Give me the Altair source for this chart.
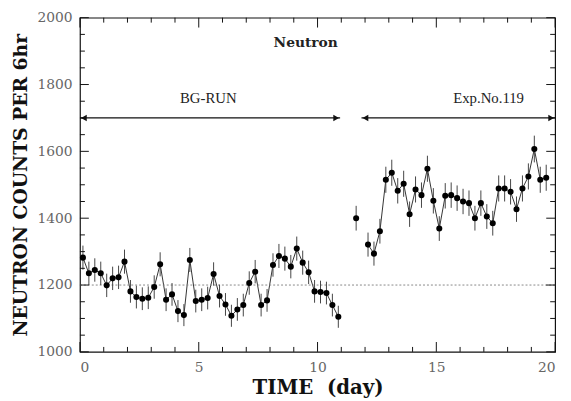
import altair as alt
import pandas as pd

# ---- data ----
t_bg = [0.125, 0.375, 0.625, 0.875, 1.125, 1.375, 1.625, 1.875, 2.125, 2.375,
        2.625, 2.875, 3.125, 3.375, 3.625, 3.875, 4.125, 4.375, 4.625, 4.875,
        5.125, 5.375, 5.625, 5.875, 6.125, 6.375, 6.625, 6.875, 7.125, 7.375,
        7.625, 7.875, 8.125, 8.375, 8.625, 8.875, 9.125, 9.375, 9.625, 9.875,
        10.125, 10.375, 10.625, 10.875]
v_bg = [1282, 1235, 1245, 1235, 1199, 1220, 1223, 1270, 1181, 1164,
        1159, 1162, 1194, 1262, 1156, 1172, 1122, 1110, 1275, 1152,
        1156, 1161, 1233, 1167, 1142, 1108, 1127, 1140, 1206, 1240,
        1140, 1154, 1260, 1287, 1279, 1255, 1309, 1267, 1238, 1181,
        1179, 1176, 1140, 1105]
e_bg = [36, 35, 35, 35, 35, 35, 35, 36, 34, 34,
        34, 34, 35, 36, 34, 34, 33, 33, 36, 34,
        34, 34, 35, 34, 34, 33, 34, 34, 35, 35,
        34, 34, 35, 36, 36, 35, 36, 36, 35, 34,
        34, 34, 34, 33]

t_iso = [11.625]
v_iso = [1400]
e_iso = [37]

t_exp = [12.125, 12.375, 12.625, 12.875, 13.125, 13.375, 13.625, 13.875, 14.125, 14.375,
         14.625, 14.875, 15.125, 15.375, 15.625, 15.875, 16.125, 16.375, 16.625, 16.875,
         17.125, 17.375, 17.625, 17.875, 18.125, 18.375, 18.625, 18.875, 19.125, 19.375,
         19.625]
v_exp = [1321, 1294, 1361, 1515, 1536, 1482, 1503, 1412, 1486, 1469,
         1548, 1452, 1369, 1467, 1469, 1460, 1450, 1445, 1400, 1445,
         1405, 1385, 1489, 1489, 1479, 1427, 1489, 1525, 1607, 1515,
         1521]
e_exp = [36, 36, 37, 39, 39, 38, 39, 38, 39, 38,
         39, 38, 37, 38, 38, 38, 38, 38, 37, 38,
         37, 37, 39, 39, 38, 38, 39, 39, 40, 39,
         39]

x_major = [0, 5, 10, 15, 20]
x_minor = [1, 2, 3, 4, 6, 7, 8, 9, 11, 12, 13, 14, 16, 17, 18, 19]
y_major = [1000, 1200, 1400, 1600, 1800, 2000]
y_minor = [1050, 1100, 1150, 1250, 1300, 1350, 1450, 1500, 1550,
           1650, 1700, 1750, 1850, 1900, 1950]

baseline_level = [1200]

arrow_start = [0, 11.85]
arrow_end = [10.95, 20]
arrow_level = [1700, 1700]

title_text = ["Neutron"]
title_x = [9.5]
title_y = [1925]
run_text = ["BG-RUN", "Exp.No.119"]
run_x = [5.4, 17.2]
run_y = [1760, 1760]

# ---- build tables ----
rows = []
for seg, ts, vs, es in [("bg", t_bg, v_bg, e_bg), ("iso", t_iso, v_iso, e_iso),
                        ("exp", t_exp, v_exp, e_exp)]:
    for t, v, e in zip(ts, vs, es):
        rows.append({"seg": seg, "t": t, "v": v, "err": e})
df = pd.DataFrame(rows)

W, H = 482, 339
SERIF = "Liberation Serif"
WIDE = "DejaVu Serif"
NB = "\u00a0"
xs = alt.Scale(domain=[0, 20], nice=False, zero=False)
ys = alt.Scale(domain=[1000, 2000], nice=False, zero=False)

x_axis = alt.Axis(values=x_major, ticks=False, domain=False, grid=False, format="d",
                  labelFont=WIDE, labelFontSize=14, labelColor="#666",
                  labelPadding=9, title="TIME" + NB * 2 + "(day)", titleFont=WIDE,
                  titleFontSize=20, titleFontWeight="bold", titlePadding=3,
                  titleColor="#111")
y_axis = alt.Axis(values=y_major, ticks=False, domain=False, grid=False, format="d",
                  labelFont=WIDE, labelFontSize=14, labelColor="#666",
                  labelPadding=8, title="NEUTRON COUNTS PER 6hr",
                  titleFont=WIDE, titleFontSize=19, titleFontWeight="bold",
                  titlePadding=7, titleColor="#111")


def X(f):
    return alt.X(f, type="quantitative", scale=xs, axis=x_axis)


def Y(f):
    return alt.Y(f, type="quantitative", scale=ys, axis=y_axis)


base = alt.Chart(df)

line = base.mark_line(color="#333", strokeWidth=1).encode(
    x=X("t"), y=Y("v"), detail="seg:N")

errbars = base.transform_calculate(
    lo="datum.v - datum.err", hi="datum.v + datum.err"
).mark_rule(color="#444", strokeWidth=1).encode(x=X("t"), y=Y("lo"), y2="hi:Q")

points = base.mark_circle(color="#000", opacity=1, size=38).encode(x=X("t"), y=Y("v"))

dotted = alt.Chart(pd.DataFrame({"y": baseline_level})).mark_rule(
    color="#888", strokeWidth=1, strokeDash=[2, 2]
).encode(y=Y("y"))

arr_df = pd.DataFrame({"x": arrow_start, "x2": arrow_end, "y": arrow_level})
arrows = alt.Chart(arr_df).mark_rule(color="#111", strokeWidth=1.2).encode(
    x=X("x"), x2="x2:Q", y=Y("y"))
heads_l = alt.Chart(arr_df).mark_point(
    shape="triangle-left", filled=True, color="#111", size=45, opacity=1,
    xOffset=4).encode(x=X("x"), y=Y("y"))
heads_r = alt.Chart(arr_df).mark_point(
    shape="triangle-right", filled=True, color="#111", size=45, opacity=1,
    xOffset=-4).encode(x=X("x2"), y=Y("y"))

title_mark = alt.Chart(pd.DataFrame({"text": title_text, "x": title_x, "y": title_y})).mark_text(
    font=WIDE, fontSize=14, fontWeight="bold", color="#222").encode(
    x=X("x"), y=Y("y"), text="text:N")
run_marks = alt.Chart(pd.DataFrame({"text": run_text, "x": run_x, "y": run_y})).mark_text(
    font=SERIF, fontSize=15, color="#222").encode(
    x=X("x"), y=Y("y"), text="text:N")


def xticks(vals, length):
    d = alt.Chart(pd.DataFrame({"x": vals})).mark_rule(color="#111", strokeWidth=1)
    b = d.encode(x=X("x"), y=alt.value(H), y2=alt.value(H - length))
    t = d.encode(x=X("x"), y=alt.value(0), y2=alt.value(length))
    return [b, t]


def yticks(vals, length):
    d = alt.Chart(pd.DataFrame({"y": vals})).mark_rule(color="#111", strokeWidth=1)
    l = d.encode(y=Y("y"), x=alt.value(0), x2=alt.value(length))
    r = d.encode(y=Y("y"), x=alt.value(W), x2=alt.value(W - length))
    return [l, r]


tick_layers = xticks(x_major, 10) + xticks(x_minor, 5) + yticks(y_major, 9) + yticks(y_minor, 5)

chart = alt.layer(
    line, dotted, errbars, points, arrows, heads_l, heads_r, title_mark, run_marks,
    *tick_layers
).properties(
    width=W, height=H,
    autosize=alt.AutoSizeParams(type="none"),
    padding={"left": 73, "top": 7, "right": 8, "bottom": 46},
    background="white",
).configure_view(stroke="#111", strokeWidth=1.2)

chart.save("out.html", embed_options={"renderer": "svg", "actions": False})
